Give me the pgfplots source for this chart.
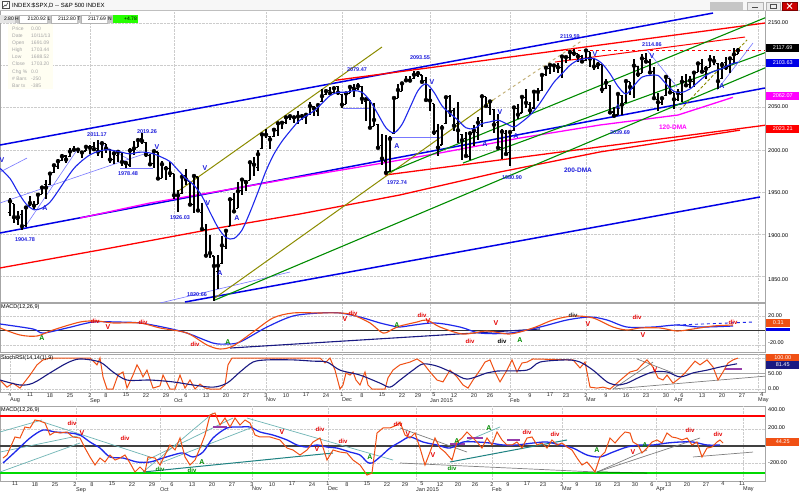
\documentclass[border=0pt]{standalone}
\usepackage{fontspec}
\setmainfont{Liberation Sans}
\usepackage{pgfplots}
\pgfplotsset{compat=1.18}
\usepackage{pgfplotstable}

\definecolor{mablue}{RGB}{30,40,235}
\definecolor{chanblue}{RGB}{0,0,230}
\definecolor{lblue}{RGB}{120,120,255}
\definecolor{olivel}{RGB}{140,140,0}
\definecolor{tancol}{RGB}{190,170,110}
\definecolor{dgreen}{RGB}{0,140,0}
\definecolor{magent}{RGB}{255,0,255}
\definecolor{orng}{RGB}{240,80,20}
\definecolor{navy}{RGB}{25,25,130}
\definecolor{lteal}{RGB}{110,180,180}
\definecolor{dteal}{RGB}{30,130,130}
\definecolor{labblue}{RGB}{30,30,220}
\definecolor{purp}{RGB}{150,60,170}

\pgfdeclareplotmark{openL}{\pgfpathmoveto{\pgfqpoint{-2.4pt}{0pt}}\pgfpathlineto{\pgfqpoint{0pt}{0pt}}\pgfusepathqstroke}
\pgfdeclareplotmark{closeR}{\pgfpathmoveto{\pgfqpoint{0pt}{0pt}}\pgfpathlineto{\pgfqpoint{2.4pt}{0pt}}\pgfusepathqstroke}

% S&P 500 daily bars, d = trading day from 4 Aug 2014
\pgfplotstableread{
d o h l c
0 1926.0 1942.9 1921.2 1939.0
1 1936.3 1936.3 1913.8 1920.2
2 1917.3 1927.9 1911.5 1920.2
3 1923.0 1928.9 1904.8 1909.6
4 1910.4 1932.4 1909.0 1931.6
5 1933.4 1944.9 1933.4 1936.9
6 1935.7 1939.7 1928.3 1933.8
7 1935.6 1948.4 1935.6 1946.7
8 1947.4 1955.2 1947.4 1955.2
9 1958.9 1964.0 1941.5 1955.1
10 1958.4 1972.0 1958.4 1971.7
11 1972.7 1982.6 1972.7 1981.6
12 1980.5 1988.6 1977.7 1986.5
13 1986.8 1994.8 1986.8 1992.4
14 1992.6 1993.5 1984.8 1988.4
15 1991.7 2002.0 1991.7 1997.9
16 1998.6 2005.0 1998.6 2000.0
17 2000.5 2002.1 1996.2 2000.1
18 1997.4 1998.6 1990.5 1996.7
19 1998.5 2004.3 1998.0 2003.4
20 2004.1 2006.1 1994.9 2002.3
21 2003.6 2009.3 1998.1 2000.7
22 2001.7 2011.2 1992.4 1997.7
23 1998.0 2007.7 1990.1 2007.7
24 2007.2 2007.2 1995.6 2001.5
25 2000.7 2001.0 1984.6 1988.4
26 1988.4 1996.7 1983.0 1995.7
27 1992.9 1997.7 1985.9 1997.5
28 1996.7 1996.7 1980.3 1985.5
29 1986.0 1987.2 1978.5 1984.1
30 1981.9 2002.3 1979.8 1999.0
31 1999.3 2010.7 1993.3 2001.6
32 2003.1 2012.3 2003.1 2011.4
33 2012.7 2019.3 2006.6 2010.4
34 2009.1 2009.1 1991.0 1994.3
35 1992.8 1995.4 1982.3 1982.8
36 1983.3 1999.8 1978.6 1998.3
37 1997.3 1997.3 1966.0 1966.0
38 1966.2 1986.4 1966.2 1982.9
39 1979.0 1981.3 1964.0 1977.8
40 1978.2 1985.2 1968.0 1972.3
41 1971.4 1971.4 1941.7 1946.2
42 1945.8 1952.3 1926.0 1946.2
43 1948.0 1971.2 1948.0 1967.9
44 1970.0 1977.8 1958.4 1964.8
45 1962.4 1962.4 1934.9 1935.1
46 1935.6 1970.4 1925.3 1968.9
47 1967.7 1967.7 1927.6 1928.2
48 1925.6 1936.9 1906.1 1906.1
49 1905.7 1912.1 1874.1 1874.7
50 1877.1 1898.7 1871.8 1877.7
51 1874.2 1874.2 1820.7 1862.5
52 1856.0 1876.0 1835.0 1862.8
53 1864.9 1898.2 1864.9 1886.8
54 1885.6 1905.0 1882.3 1904.0
55 1909.4 1942.5 1909.4 1941.3
56 1941.3 1949.3 1926.8 1927.1
57 1931.0 1962.0 1931.0 1950.8
58 1951.6 1965.3 1946.3 1964.6
59 1963.0 1964.6 1951.4 1961.6
60 1964.1 1985.1 1964.1 1985.1
61 1983.3 1991.4 1969.0 1982.3
62 1979.5 1999.4 1974.8 1994.7
63 2001.2 2018.2 2001.2 2018.1
64 2018.2 2024.5 2013.7 2017.8
65 2015.8 2016.0 2001.0 2012.1
66 2015.3 2023.8 2015.3 2023.6
67 2023.3 2031.6 2015.9 2031.2
68 2032.4 2034.3 2025.1 2031.9
69 2032.0 2038.7 2030.2 2038.3
70 2038.2 2041.3 2035.3 2039.7
71 2037.8 2040.3 2031.3 2038.3
72 2039.2 2046.2 2030.4 2039.3
73 2039.7 2042.2 2035.2 2039.8
74 2038.3 2043.1 2030.2 2041.3
75 2041.5 2056.1 2041.5 2051.8
76 2051.2 2052.1 2040.4 2048.7
77 2045.9 2053.8 2040.5 2052.8
78 2057.5 2071.5 2056.8 2063.5
79 2065.1 2070.2 2065.1 2069.4
80 2070.1 2074.2 2064.8 2067.0
81 2067.4 2073.3 2066.6 2072.8
82 2074.8 2075.8 2065.1 2067.6
83 2065.8 2065.8 2049.6 2053.4
84 2053.8 2068.8 2053.8 2066.6
85 2067.0 2076.3 2066.6 2074.3
86 2073.6 2077.3 2062.3 2071.9
87 2072.8 2079.5 2070.8 2075.4
88 2074.8 2075.8 2054.3 2060.3
89 2056.6 2060.6 2034.2 2059.8
90 2058.9 2058.9 2024.3 2026.1
91 2027.9 2055.5 2027.9 2035.3
92 2030.4 2030.4 2002.3 2002.3
93 2005.0 2018.7 1982.3 1989.6
94 1986.7 2016.9 1972.7 1972.7
95 1973.8 2016.8 1973.8 2012.9
96 2019.0 2061.2 2019.0 2061.2
97 2061.0 2077.9 2061.0 2070.7
98 2069.3 2078.8 2069.3 2078.5
99 2081.5 2086.7 2079.8 2082.2
100 2083.3 2087.6 2081.9 2081.9
101 2084.3 2092.7 2084.3 2088.8
102 2087.6 2093.6 2085.8 2090.6
103 2088.5 2088.5 2079.5 2080.4
104 2082.1 2085.7 2057.9 2058.9
105 2058.9 2072.4 2046.0 2058.2
106 2054.4 2054.4 2017.3 2020.6
107 2022.2 2030.3 1992.4 2002.6
108 2005.6 2029.6 2005.6 2025.9
109 2030.6 2064.1 2030.6 2062.1
110 2063.5 2064.4 2038.3 2044.8
111 2046.1 2049.3 2022.6 2028.3
112 2031.6 2056.9 2008.3 2023.0
113 2018.4 2018.4 1988.4 2011.3
114 2013.8 2021.4 1991.5 1992.7
115 1992.3 2020.5 1988.1 2019.4
116 2020.8 2028.9 2004.5 2022.6
117 2020.2 2038.3 2012.0 2032.1
118 2034.3 2064.6 2026.4 2063.2
119 2063.0 2063.0 2050.5 2051.8
120 2050.4 2057.6 2041.0 2057.1
121 2047.9 2047.9 2019.9 2029.6
122 2032.3 2042.5 2001.5 2002.2
123 2002.5 2024.6 1989.2 2021.3
124 2019.4 2023.3 1993.4 1995.0
125 1996.7 2021.7 1980.9 2020.9
126 2022.7 2050.3 2022.7 2050.0
127 2048.9 2054.7 2036.7 2041.5
128 2043.5 2063.6 2043.5 2062.5
129 2062.3 2072.4 2050.0 2055.5
130 2053.5 2056.2 2041.9 2046.7
131 2049.4 2070.9 2048.6 2068.6
132 2068.6 2073.5 2058.0 2068.5
133 2070.0 2088.5 2070.0 2088.5
134 2088.8 2097.0 2086.7 2097.0
135 2096.5 2101.3 2089.8 2100.3
136 2099.2 2100.2 2092.2 2099.7
137 2099.3 2102.1 2090.8 2097.5
138 2097.7 2110.6 2085.4 2110.3
139 2109.8 2110.1 2102.5 2109.7
140 2109.1 2117.9 2105.9 2115.5
141 2115.3 2119.6 2111.2 2113.9
142 2113.9 2113.9 2103.8 2110.7
143 2110.9 2112.7 2103.8 2104.5
144 2105.2 2117.5 2104.5 2117.4
145 2115.8 2115.8 2098.3 2107.8
146 2107.7 2107.7 2094.5 2098.5
147 2098.5 2104.3 2095.2 2101.0
148 2100.9 2100.9 2067.3 2071.3
149 2072.3 2083.5 2072.2 2079.4
150 2076.1 2076.1 2044.2 2044.2
151 2044.7 2050.1 2039.7 2040.2
152 2041.1 2066.4 2041.1 2066.0
153 2064.6 2064.6 2041.2 2053.4
154 2055.4 2081.4 2055.4 2081.2
155 2080.6 2080.6 2065.1 2074.3
156 2072.8 2106.9 2061.2 2099.5
157 2098.7 2098.7 2085.6 2089.3
158 2090.3 2113.9 2090.3 2108.1
159 2108.0 2114.9 2104.4 2104.4
160 2103.9 2107.6 2091.5 2091.5
161 2093.1 2097.4 2061.1 2061.1
162 2059.9 2067.2 2045.5 2056.2
163 2055.8 2062.8 2053.0 2061.0
164 2064.1 2089.0 2064.1 2086.2
165 2084.1 2084.1 2067.0 2067.9
166 2067.6 2067.6 2048.4 2059.7
167 2060.0 2072.2 2057.3 2067.0
168 2064.9 2087.0 2056.5 2080.6
169 2080.8 2089.8 2076.1 2076.3
170 2076.9 2086.7 2073.3 2081.9
171 2081.3 2093.3 2074.3 2091.2
172 2091.5 2102.6 2091.5 2102.1
173 2102.0 2107.7 2092.3 2092.4
174 2092.3 2098.6 2083.2 2095.8
175 2097.8 2111.9 2097.8 2106.6
176 2106.0 2111.3 2100.0 2105.0
177 2102.6 2102.6 2072.4 2081.2
178 2084.1 2103.9 2084.1 2100.4
179 2102.8 2109.6 2094.4 2097.3
180 2098.3 2110.0 2091.1 2108.0
181 2107.2 2120.5 2103.2 2112.9
182 2112.8 2120.9 2112.8 2117.7
}\ohlc

\pgfplotsset{
  panel/.style={scale only axis, width=765pt,
    axis line style={draw=gray!70, line width=0.7pt},
    clip mode=individual, xticklabels={}, yticklabels={},
    major tick length=0pt, xmajorgrids=true, ymajorgrids=true,
    major grid style={draw=gray!40, densely dotted, line width=0.4pt}},
  datetick/.style={xmajorgrids=false,
    xticklabel style={font=\fontsize{5.5}{6}\selectfont, inner sep=1pt, text=black!85},
    extra x tick style={xmajorgrids=true,
      xticklabel style={anchor=north west, yshift=-5pt, xshift=-1pt}}},
}
\tikzset{
  lab/.style={font=\fontsize{5.5}{6}\selectfont\bfseries, text=labblue, inner sep=0pt},
  mk/.style={font=\fontsize{7}{7}\selectfont\bfseries, text=labblue, inner sep=0pt},
  rdiv/.style={font=\fontsize{6}{6}\selectfont\bfseries, text=red!90!black, inner sep=0pt},
  rv/.style={font=\fontsize{7}{7}\selectfont\bfseries, text=red!90!black, inner sep=0pt},
  gdiv/.style={font=\fontsize{6}{6}\selectfont\bfseries, text=dgreen, inner sep=0pt},
  ga/.style={font=\fontsize{7}{7}\selectfont\bfseries, text=dgreen, inner sep=0pt},
  rl/.style={anchor=west, font=\fontsize{5.5}{6}\selectfont, inner sep=0pt, text=black},
  rb/.style={anchor=west, font=\fontsize{5.5}{6}\selectfont, inner xsep=1.5pt, inner ysep=0pt,
    minimum height=8pt, minimum width=33pt, text=white},
}

\begin{document}
\begin{tikzpicture}
\useasboundingbox (0,0) rectangle (800pt,-493pt);
\fill[white] (0,0) rectangle (800pt,-493pt);

%% ---------------- price panel ----------------
\begin{axis}[panel, at={(0pt,-10pt)}, anchor=north west, height=292pt,
  xmin=-2.5, xmax=188.75, ymin=1819.8, ymax=2165.4,
  xtick={20,41,64,83,105,125,144,166,187}, ytick={1850,1900,...,2150}]
  % channels and averages
  \addplot[chanblue, line width=1.5pt] coordinates {(-2.5,2005.6) (175.75,2161.8)};
  \addplot[chanblue, line width=1.5pt] coordinates {(-2.5,1901.5) (188.75,2073.1)};
  \addplot[chanblue, line width=1.5pt] coordinates {(43.75,1819.8) (187.5,1944.1)};
  \addplot[lblue, line width=0.6pt] coordinates {(37.5,1818.6) (70,1855.3)};
  \addplot[red, line width=1.3pt] coordinates {(-2.5,1860.1) (22.5,1881.4) (52,1907.4) (72.5,1924) (97.5,1946.5) (122.5,1973.7) (147.5,1997.4) (182.5,2023.2)};
  \addplot[red, line width=1.3pt] coordinates {(93.75,1970.1) (189.25,2029.3)};
  \addplot[red, line width=1.3pt] coordinates {(81,2082) (188.75,2150)};
  \addplot[red, line width=1.0pt] coordinates {(136.25,2103.8) (183.75,2133.4)};
  \addplot[red, line width=0.9pt, dashed] coordinates {(136,2118) (188.75,2118)};
  \addplot[magent, line width=1.3pt] coordinates {(17.5,1919.2) (35,1937) (52.5,1951.2) (72.5,1967.8) (93.25,1984.3) (107.5,1996.2) (127.5,2013.9) (147.5,2029.3) (167,2041.1) (180.75,2062.1)};
  \addplot[olivel, line width=1.0pt] coordinates {(41.75,1950) (93,2121.6)};
  \addplot[olivel, line width=1.0pt] coordinates {(51.25,1824.6) (120.75,2058.9)};
  \addplot[tancol, line width=0.9pt, dashed] coordinates {(120.75,2058.9) (143.25,2129.9)};
  \addplot[olivel, line width=0.9pt, densely dashed] coordinates {(167.5,2047) (184.25,2129.9)};
  \addplot[dgreen, line width=1.1pt] coordinates {(51.25,1822.2) (189.25,2097.9)};
  \addplot[dgreen, line width=1.1pt] coordinates {(94.25,1972.5) (189.25,2157.1)};
  \addplot[dgreen, line width=1.1pt] coordinates {(113.25,1984.3) (189.25,2115.7)};
  % thin trend lines
  \addplot[lblue, line width=0.6pt] coordinates {(-2.5,1937) (34.25,1996.2)};
  \addplot[lblue, line width=0.6pt] coordinates {(3.75,1908.6) (16.75,1999.7)};
  \addplot[lblue, line width=0.6pt] coordinates {(21.75,2009.2) (30,1987.9)};
  \addplot[lblue, line width=0.6pt] coordinates {(-2.5,1973.6) (4.25,1990.2)};
  \addplot[lblue, line width=0.8pt] coordinates {(27.5,1978.4) (35.75,1978.4)};
  \addplot[lblue, line width=0.8pt] coordinates {(83.25,2049.4) (90,2049.4)};
  \addplot[lblue, line width=0.8pt] coordinates {(95,2015.1) (108,2015.1)};
  \addplot[lblue, line width=0.6pt] coordinates {(159.25,2118) (166.75,2074.3)};
  \addplot[lblue, line width=0.6pt] coordinates {(176.75,2070.7) (185.75,2126.3)};
  % bars
  \addplot[only marks, mark=none, error bars/.cd, y dir=both, y explicit,
    error mark=none, error bar style={black, line width=1.4pt}]
    table[x=d, y=c, y error plus expr=\thisrow{h}-\thisrow{c},
      y error minus expr=\thisrow{c}-\thisrow{l}] {\ohlc};
  \addplot[only marks, mark=openL, black, line width=1.1pt] table[x=d, y=o] {\ohlc};
  \addplot[only marks, mark=closeR, black, line width=1.1pt] table[x=d, y=c] {\ohlc};
  % short average
  \addplot[mablue, line width=1.1pt, smooth] coordinates {
    (-2.5,1978) (0,1966) (2,1950) (4,1936) (6,1929) (8,1931) (10,1938) (12,1951)
    (14,1965) (16,1978) (18,1987) (20,1994) (22,1998) (24,2000) (26,1999) (28,1997)
    (30,1995) (32,1997) (34,1997) (36,1995) (38,1991) (40,1986) (42,1976) (44,1966)
    (46,1958) (48,1945) (50,1926) (52,1908) (54,1896) (56,1895) (58,1905) (60,1926)
    (62,1950) (64,1975) (66,1995) (68,2010) (70,2022) (72,2033) (74,2040) (76,2046)
    (78,2055) (80,2064) (82,2068) (84,2068) (86,2070) (88,2068) (90,2058) (92,2042)
    (94,2026) (96,2020) (98,2030) (100,2050) (102,2070) (104,2078) (106,2068) (108,2052)
    (110,2043) (112,2035) (114,2026) (116,2025) (118,2031) (120,2033) (122,2035) (124,2031)
    (126,2027) (128,2033) (130,2041) (132,2052) (134,2066) (136,2080) (138,2090) (140,2100)
    (142,2106) (144,2108) (146,2108) (148,2102) (150,2090) (152,2075) (154,2066) (156,2076)
    (158,2086) (160,2088) (162,2088) (164,2078) (166,2069) (168,2068) (170,2072) (172,2080)
    (174,2088) (176,2093) (178,2096) (180,2101) (182,2103.6)};
  % labels
  \node[lab] at (axis cs:3.75,1893.2) {1904.78};
  \node[lab] at (axis cs:21.75,2017.5) {2011.17};
  \node[lab] at (axis cs:29.5,1971.3) {1978.48};
  \node[lab] at (axis cs:34.25,2021) {2019.26};
  \node[lab] at (axis cs:42.5,1919.2) {1926.03};
  \node[lab] at (axis cs:46.75,1828.1) {1820.66};
  \node[lab] at (axis cs:86.75,2094.4) {2079.47};
  \node[lab] at (axis cs:102.5,2108.6) {2093.55};
  \node[lab] at (axis cs:96.75,1960.7) {1972.74};
  \node[lab] at (axis cs:125.5,1966.6) {1980.90};
  \node[lab, font=\fontsize{6.5}{7}\selectfont\bfseries] at (axis cs:142,1976) {200-DMA};
  \node[lab] at (axis cs:140,2133.4) {2119.59};
  \node[lab] at (axis cs:160.5,2124) {2114.86};
  \node[lab] at (axis cs:152.5,2019.8) {2039.69};
  \node[lab, text=magent, font=\fontsize{6.5}{7}\selectfont\bfseries] at (axis cs:165.75,2026.9) {120-DMA};
  \node[mk] at (axis cs:-2,1987.9) {V};
  \node[mk] at (axis cs:8.75,1931.1) {A};
  \node[mk] at (axis cs:36.75,2003.3) {V};
  \node[mk] at (axis cs:48.75,1978.4) {V};
  \node[mk] at (axis cs:49.5,1937) {V};
  \node[mk] at (axis cs:56.75,1919.2) {A};
  \node[mk] at (axis cs:52.5,1854.1) {A};
  \node[mk] at (axis cs:105.5,2080.2) {V};
  \node[mk] at (axis cs:96.75,2004.4) {A};
  \node[mk] at (axis cs:122.5,2044.7) {V};
  \node[mk] at (axis cs:118.75,2006.8) {A};
  \node[mk] at (axis cs:126.5,2016.3) {A};
  \node[mk] at (axis cs:146.25,2113.3) {V};
  \node[mk] at (axis cs:160.5,2111) {V};
  \node[mk] at (axis cs:152,2050.6) {A};
  \node[mk] at (axis cs:178,2075.4) {A};
\end{axis}

%% ---------------- MACD(12,26,9) ----------------
\begin{axis}[panel, at={(0pt,-303pt)}, anchor=north west, height=49pt,
  xmin=-2.5, xmax=188.75, ymin=-29.67, ymax=37.95,
  xtick={20,41,64,83,105,125,144,166,187}, ytick={-20,20}]
  \draw[black!80, line width=1.2pt] (axis cs:-2.5,0) -- (axis cs:188.75,0);
  \addplot[navy, line width=1.1pt] coordinates {(55,-24.2) (132.5,2.1)};
  \addplot[mablue, line width=0.9pt, dashed] coordinates {(166.75,7.6) (185.75,11.7)};
  \addplot[mablue, line width=1.2pt, smooth] coordinates {
    (-2.5,9.0) (5.75,2.1) (8.25,-3.5) (14.25,3.5) (20.75,11.7) (26.75,11.7) (32.5,10.4)
    (39.25,3.5) (44.25,-3.5) (50.75,-17.3) (54.25,-18.6) (57.5,-15.9) (64.25,4.8)
    (70.75,20.0) (77.5,24.2) (82.5,24.2) (87.5,18.6) (92.5,10.4) (95.75,6.2) (97.5,4.8)
    (105.75,10.4) (112.5,4.8) (117.5,-3.5) (125,-3.5) (132.5,4.8) (139.25,14.5) (145,18.6)
    (149.25,14.5) (154.25,4.8) (160.75,4.8) (166.75,7.6) (172.5,4.8) (180.75,6.2)};
  \addplot[orng, line width=1.1pt, smooth] coordinates {
    (-2.5,3.5) (2.5,-6.2) (6.75,-7.6) (10.75,0.7) (17.5,11.7) (21.75,13.1) (25.75,10.4)
    (32.5,10.4) (37.5,3.5) (44.25,-3.5) (49.25,-20.0) (52.5,-25.5) (55.75,-21.4)
    (60.75,-2.1) (65.75,17.3) (70.75,24.2) (77.5,24.2) (82.5,24.2) (85.75,21.4) (90,10.4)
    (93.25,-3.5) (95.75,2.1) (97.5,6.2) (101.75,11.7) (104.25,14.5) (107.5,4.8)
    (113.25,-4.8) (119.25,-0.7) (125,-4.8) (130.75,3.5) (135.75,14.5) (140.75,20.0)
    (145.75,17.3) (150.75,4.8) (154.25,0.7) (157.5,3.5) (162.5,3.5) (166.75,-0.7)
    (170.75,2.1) (175.75,6.2) (180.75,7.6)};
  \node[anchor=north west, font=\fontsize{5.5}{6}\selectfont, inner sep=1pt] at (rel axis cs:0,1) {MACD(12,26,9)};
  \node[ga] at (axis cs:8,-10.4) {A};
  \node[rdiv] at (axis cs:21.25,13.1) {div};
  \node[rv] at (axis cs:24.5,4.8) {V};
  \node[rdiv] at (axis cs:33.25,11.7) {div};
  \node[rdiv] at (axis cs:46.25,-18.6) {div};
  \node[ga] at (axis cs:54.5,-15.9) {A};
  \node[rv] at (axis cs:83.75,15.9) {V};
  \node[rdiv] at (axis cs:85.75,24.2) {div};
  \node[ga] at (axis cs:96.75,7.6) {A};
  \node[rdiv] at (axis cs:103,21.4) {div};
  \node[rv] at (axis cs:104.5,13.1) {V};
  \node[rdiv] at (axis cs:115,-14.5) {div};
  \node[rv] at (axis cs:121.5,10.4) {V};
  \node[rdiv, text=black] at (axis cs:123,-14.5) {div};
  \node[ga] at (axis cs:127.5,-13.1) {A};
  \node[rdiv, text=black!80] at (axis cs:140.75,21.4) {div};
  \node[rv] at (axis cs:144.5,9.0) {V};
  \node[rdiv] at (axis cs:156.75,18.6) {div};
  \node[rv] at (axis cs:158.25,-6.2) {V};
  \node[rdiv] at (axis cs:180.75,11.7) {div};
\end{axis}

%% ---------------- StochRSI ----------------
\begin{axis}[panel, datetick, at={(0pt,-354pt)}, anchor=north west, height=38pt,
  xmin=-2.5, xmax=188.75, ymin=-9.69, ymax=113.05, ytick={0,100},
  xtick={0,5,10,15,20,24,29,34,39,44,49,54,59,64,69,74,79,83,88,93,98,102,106,111,116,120,125,130,135,139,144,149,154,159,164,168,173,178,183,188},
  xticklabels={4,11,18,25,2,8,15,22,29,6,13,20,27,3,10,17,24,1,8,15,22,29,5,12,20,26,2,9,17,23,2,9,16,23,30,6,13,20,27,4},
  extra x ticks={0,20,41,64,83,105,125,144,166,187},
  extra x tick labels={Aug,Sep,Oct,Nov,Dec,Jan 2015,Feb,Mar,Apr,May}]
  \draw[gray!70, line width=0.9pt] (axis cs:-2.5,50) -- (axis cs:188.75,50);
  \addplot[gray, line width=0.7pt] coordinates {(150.75,0) (160.75,87)};
  \addplot[gray, line width=0.7pt] coordinates {(156.75,97) (165.75,52)};
  \addplot[gray, line width=0.7pt] coordinates {(150.75,0) (189.25,42)};
  \addplot[purp, line width=1.3pt] coordinates {(178.75,65) (183,65)};
  \addplot[orng, line width=1.0pt] coordinates {
    (-2.5,29) (-0.75,6) (0.75,19) (2.5,3) (5,45) (6.75,78) (8.25,94) (10,100) (20,100)
    (21.75,78) (22.5,100) (23.25,39) (24.25,0) (25.75,0) (27,45) (28.25,55) (29.25,3)
    (30.75,45) (31.75,78) (32.5,61) (33.25,39) (34.25,61) (35.75,3) (37.5,10) (38.25,45)
    (40,0) (41.25,0) (42.5,45) (43.75,3) (45,29) (46.25,0) (47.5,16) (48.75,3) (50,0)
    (52.5,0) (53.75,13) (54.5,78) (55.5,100) (77.5,100) (78.75,84) (80,100) (81.25,61)
    (82.5,0) (83.25,13) (84,52) (85,45) (85.75,55) (86.5,29) (87.5,13) (88.75,55) (89.5,13)
    (90.5,0) (93.75,0) (94.5,36) (95.75,61) (96.75,71) (97.5,78) (100,87) (101.75,97)
    (103.25,84) (105,55) (106.75,29) (108.25,23) (110,61) (111.75,39) (113.25,13) (114.5,3)
    (115.75,29) (117.5,61) (118.75,87) (120,94) (121.25,55) (122.5,23) (124.25,61)
    (125.5,94) (126.75,55) (128,84) (129.25,87) (130.75,97) (140.75,94) (142.5,68)
    (143.75,87) (145,6) (146.75,3) (148.25,6) (150,0) (151.75,19) (153.25,36) (155,55)
    (156.75,61) (158,78) (159.25,94) (160.75,71) (162,36) (163.25,29) (164.25,45)
    (165.75,19) (167.5,36) (168.75,52) (170,71) (171.25,90) (172.5,78) (174.25,94)
    (175.75,71) (177,29) (178.25,55) (179.5,84) (180.75,94) (182,100)};
  \addplot[navy, line width=1.1pt, smooth] coordinates {
    (-2.5,29) (2.5,13) (5.75,19) (10,52) (14.25,84) (17.5,97) (22.5,87) (25.75,55)
    (29.25,29) (35,29) (40.75,23) (45.75,13) (50.75,6) (54.25,19) (57.5,55) (60.75,87)
    (64.25,94) (70.75,94) (75.75,90) (79.25,87) (82.5,61) (87.5,45) (92.5,19) (95,6)
    (97.5,29) (100.75,61) (103.25,81) (106.75,74) (110.75,52) (114.25,32) (119.25,52)
    (121.75,58) (129.25,61) (132.5,87) (139.25,94) (142.5,87) (145.75,61) (149.25,23)
    (151.75,13) (154.25,19) (157.5,39) (160.75,55) (164.25,55) (167.5,39) (170.75,52)
    (174.25,61) (177.5,71) (181.75,81.45)};
  \node[anchor=north west, font=\fontsize{5.5}{6}\selectfont, inner sep=1pt] at (rel axis cs:0,1) {StochRSI(14,14(1),9)};
  \node[rv] at (axis cs:161.25,61) {V};
\end{axis}

%% ---------------- MACD(12,26,9) lower ----------------
\begin{axis}[panel, datetick, at={(0pt,-406pt)}, anchor=north west, height=75pt,
  xmin=0, xmax=765, ymin=-411.6, ymax=470.4, ytick={-200,200},
  xtick={15,35,55,75,92,112,132,152,172,192,212,232,252,272,292,312,328,347,367,387,405,422,440,458,475,492,508,527,543,562,577,598,617,635,652,668,687,706,723,742},
  xticklabels={11,18,25,2,8,15,22,29,6,13,20,27,3,10,17,24,1,8,15,22,29,5,12,20,26,2,9,17,23,2,9,16,23,30,6,13,20,27,4,11},
  extra x ticks={76,160,252,328,416,492,562,656,743},
  extra x tick labels={Sep,Oct,Nov,Dec,Jan 2015,Feb,Mar,Apr,May}]
  \draw[red, line width=1.1pt] (axis cs:0,353) -- (axis cs:765,353);
  \draw[green!85!black, line width=1.3pt] (axis cs:0,-318) -- (axis cs:765,-318);
  \draw[black!75, line width=1.1pt] (axis cs:0,0) -- (axis cs:765,0);
  \addplot[lteal, line width=0.7pt] coordinates {(0,165) (42,306)};
  \addplot[lteal, line width=0.7pt] coordinates {(0,-71) (82,129)};
  \addplot[lteal, line width=0.7pt] coordinates {(0,-306) (80,35)};
  \addplot[lteal, line width=0.7pt] coordinates {(43,282) (150,-129)};
  \addplot[lteal, line width=0.7pt] coordinates {(143,-306) (213,388)};
  \addplot[lteal, line width=0.7pt] coordinates {(147,-165) (233,329)};
  \addplot[lteal, line width=0.7pt] coordinates {(160,-200) (253,223)};
  \addplot[lteal, line width=0.7pt] coordinates {(247,329) (393,-165)};
  \addplot[lteal, line width=0.7pt] coordinates {(450,-24) (500,224)};
  \addplot[dteal, line width=1.0pt] coordinates {(143,-306) (333,-82)};
  \addplot[dteal, line width=1.0pt] coordinates {(450,-188) (567,71)};
  \addplot[gray, line width=0.7pt] coordinates {(400,212) (467,-71)};
  \addplot[gray, line width=0.7pt] coordinates {(400,-200) (597,-306)};
  \addplot[gray, line width=0.7pt] coordinates {(597,-306) (700,94)};
  \addplot[gray, line width=0.7pt] coordinates {(597,-306) (647,-47)};
  \addplot[gray, line width=0.7pt] coordinates {(693,-129) (753,-71)};
  \addplot[dgreen, line width=1.0pt] coordinates {(597,-306) (647,-318)};
  \addplot[purp, line width=1.2pt] coordinates {(213,223) (227,223)};
  \addplot[purp, line width=1.2pt] coordinates {(450,24) (465,24)};
  \addplot[purp, line width=1.2pt] coordinates {(467,94) (483,94)};
  \addplot[purp, line width=1.2pt] coordinates {(507,71) (520,71)};
  \addplot[mablue, line width=1.3pt, smooth] coordinates {
    (3,-200) (15,-71) (30,94) (43,188) (55,165) (70,153) (80,129) (90,47) (100,-24)
    (110,-129) (123,-141) (137,-188) (150,-188) (163,-141) (173,-106) (183,-82) (193,-129)
    (203,-71) (213,94) (227,212) (240,223) (250,223) (260,165) (273,129) (287,71) (297,12)
    (307,-12) (317,12) (327,-12) (337,-24) (350,-71) (360,-106) (367,-188) (372,-200)
    (380,-129) (390,-24) (400,47) (410,106) (423,47) (437,12) (450,-24) (463,47) (477,47)
    (490,35) (503,12) (517,12) (533,35) (547,47) (560,12) (573,-24) (587,-106) (600,-129)
    (613,-71) (627,-12) (640,12) (653,12) (667,35) (680,47) (693,47) (707,12) (720,12)};
  \addplot[orng, line width=1.0pt] coordinates {
    (3,-141) (7,-106) (15,106) (20,94) (25,223) (30,212) (35,306) (40,294) (45,270) (50,129)
    (55,165) (60,153) (67,165) (73,106) (80,94) (85,-24) (90,-129) (95,-223) (100,-141)
    (105,-188) (110,-106) (115,-165) (120,-141) (125,-106) (130,-200) (135,-306) (140,-247)
    (145,-306) (148,-129) (155,-141) (160,-223) (165,-106) (170,12) (175,-47) (180,94)
    (185,-129) (190,-223) (195,-165) (200,-24) (205,129) (210,365) (215,388) (220,247)
    (225,329) (230,223) (235,329) (240,247) (245,306) (250,270) (255,129) (260,106)
    (270,106) (280,71) (287,-24) (293,-47) (300,-106) (307,-47) (313,47) (320,94) (327,-165)
    (333,-47) (340,-71) (347,-82) (353,-165) (360,-223) (367,-341) (372,-318) (377,153)
    (383,212) (390,212) (397,247) (400,282) (405,129) (410,94) (415,153) (420,-24)
    (425,-223) (430,-71) (435,94) (440,-24) (445,-71) (452,-165) (457,47) (462,94) (467,165)
    (472,106) (477,47) (482,-24) (487,94) (492,12) (497,165) (502,71) (507,12) (512,12)
    (517,47) (522,-24) (527,94) (532,106) (537,12) (542,35) (547,-24) (552,71) (557,12)
    (562,35) (567,-12) (572,-47) (577,-141) (582,-223) (587,-188) (592,-259) (595,-306)
    (600,-129) (605,-71) (610,94) (615,35) (620,106) (625,165) (630,153) (633,47) (638,12)
    (642,-82) (647,-24) (652,47) (657,71) (662,35) (667,153) (672,106) (677,94) (682,71)
    (687,94) (692,12) (697,47) (702,-129) (707,-24) (712,-12) (717,47) (720,71) (723,35)};
  \node[anchor=north west, font=\fontsize{5.5}{6}\selectfont, inner sep=1pt] at (rel axis cs:0,1) {MACD(12,26,9)};
  \node[rdiv] at (axis cs:72,270) {div};
  \node[rv] at (axis cs:82,153) {V};
  \node[rdiv] at (axis cs:125,94) {div};
  \node[gdiv] at (axis cs:160,-270) {div};
  \node[gdiv] at (axis cs:192,-282) {div};
  \node[ga] at (axis cs:202,-188) {A};
  \node[rv] at (axis cs:282,165) {V};
  \node[rdiv] at (axis cs:320,200) {div};
  \node[rv] at (axis cs:317,-35) {V};
  \node[rdiv] at (axis cs:343,59) {div};
  \node[ga] at (axis cs:370,-129) {A};
  \node[rdiv] at (axis cs:398,259) {div};
  \node[rv] at (axis cs:408,141) {V};
  \node[rv] at (axis cs:433,-106) {V};
  \node[gdiv] at (axis cs:452,-259) {div};
  \node[ga] at (axis cs:457,59) {A};
  \node[ga] at (axis cs:489,212) {A};
  \node[rdiv] at (axis cs:527,165) {div};
  \node[rdiv] at (axis cs:555,141) {div};
  \node[ga] at (axis cs:597,-47) {A};
  \node[rv] at (axis cs:633,-71) {V};
  \node[ga] at (axis cs:645,12) {A};
  \node[rdiv] at (axis cs:690,188) {div};
  \node[rdiv] at (axis cs:718,141) {div};
\end{axis}

%% ---------------- window chrome and scale labels ----------------
\begin{scope}[x=1pt, y=-1pt]
  \fill[gray!6] (0,0) rectangle (800,10);
  \draw[gray!50] (0,10) -- (800,10);
  \draw[black!70, fill=white] (2,1.5) rectangle (9,8.5);
  \draw[black!80, line width=0.5pt] (3,7.5) -- (5,5) -- (6,6) -- (8,2.5);
  \node[anchor=west, font=\fontsize{6}{6}\selectfont, inner sep=0pt] at (12,5.2) {INDEX:\$SPX,D -{}- S\&P 500 INDEX};
  \fill[gray!45] (710,2) rectangle (743,10);
  \draw[gray!60, fill=gray!15] (747,2) rectangle (763,10);
  \draw[black!70] (752,7.5) -- (758,7.5);
  \draw[gray!60, fill=gray!15] (766,2) rectangle (780,10);
  \draw[black!70] (770,4) rectangle (776,8.5);
  \draw[red!50!black, fill=red!80!black] (782,2) rectangle (797,10);
  \draw[white, line width=0.8pt] (787,3.5) -- (792,8.5) (787,8.5) -- (792,3.5);
  % quote strip
  \tikzset{tb/.style={font=\fontsize{5}{5}\selectfont, inner sep=0pt}}
  \fill[gray!20] (0,15) rectangle (15,23);
  \node[tb, anchor=east] at (14,19) {2.80};
  \fill[gray!45] (15,15) rectangle (19,23); \node[tb] at (17,19) {H};
  \draw[gray!60, fill=white] (19,15) rectangle (47,23); \node[tb, anchor=east] at (46,19) {2120.92};
  \fill[gray!45] (47,15) rectangle (51,23); \node[tb] at (49,19) {L};
  \draw[gray!60, fill=white] (51,15) rectangle (77,23); \node[tb, anchor=east] at (76,19) {2112.80};
  \fill[gray!45] (77,15) rectangle (81,23); \node[tb] at (79,19) {T};
  \draw[gray!60, fill=white] (81,15) rectangle (107,23); \node[tb, anchor=east] at (106,19) {2117.69};
  \fill[gray!45] (107,15) rectangle (113,23); \node[tb] at (110,19) {N};
  \fill[green!80!lime] (113,15) rectangle (138,23); \node[tb, anchor=east] at (137,19) {+4.78};
  % data window
  \fill[yellow!5] (8,24) rectangle (53,89);
  \foreach \yy/\aa/\bb in {29/Price/0.00, 36/Date/10\slash 11\slash 13, 43/Open/1691.09,
      50/High/1703.44, 57/Low/1688.52, 64/Close/1703.20, 72/Chg \%/0.0,
      79/\# Bars/-250, 86/Bar tx/-385}{
    \node[tb, anchor=west, text=gray!70] at (12,\yy) {\aa};
    \node[tb, anchor=west, text=gray!70] at (31,\yy) {\bb};
  }
  % right scales
  \node[rl] at (768,23) {2150.00};
  \node[rl] at (768,107) {2050.00};
  \node[rl] at (768,151) {2000.00};
  \node[rl] at (768,193) {1950.00};
  \node[rl] at (768,236) {1900.00};
  \node[rl] at (768,280) {1850.00};
  \node[rb, fill=black] at (766,48) {2117.69};
  \node[rb, fill=chanblue] at (766,63) {2103.63};
  \node[rb, fill=magent] at (766,96) {2062.07};
  \node[rb, fill=red] at (766,129) {2023.21};
  \node[rl] at (768,316) {20.00};
  \node[rb, fill=orng, minimum width=24pt] at (766,323) {0.31};
  \fill[chanblue] (766,327.5) rectangle (790,331);
  \node[rl] at (768,343) {-20.00};
  \node[rb, fill=orng] at (766,358) {100.00};
  \node[rb, fill=navy] at (766,365) {81.45};
  \node[rl] at (768,374) {50.00};
  \node[rl] at (768,389) {0.00};
  \node[rl] at (768,410) {400.00};
  \node[rl] at (768,428) {200.00};
  \node[rb, fill=orng] at (766,442) {44.25};
  \node[rl] at (768,463) {-200.00};
\end{scope}
\end{tikzpicture}
\end{document}
